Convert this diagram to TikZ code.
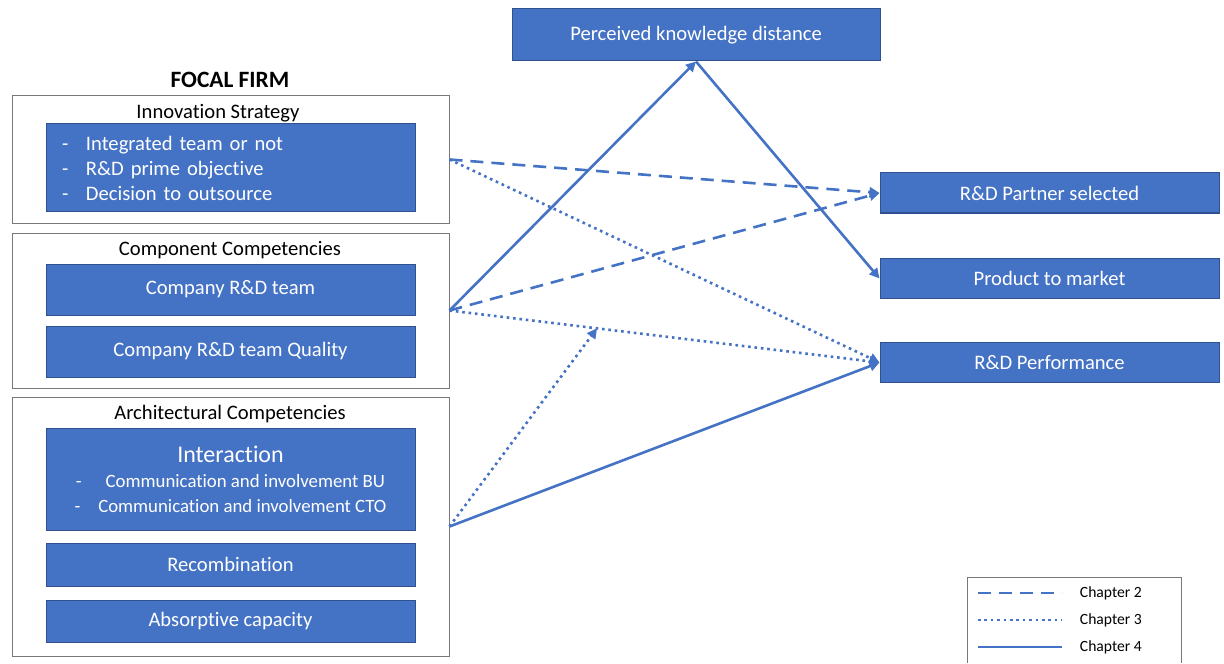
\documentclass[tikz,border=0pt]{standalone}
\usepackage{fontspec}
\setmainfont{Carlito}[Ligatures=NoCommon]
\usetikzlibrary{arrows.meta,calc}
\definecolor{boxblue}{RGB}{68,114,196}
\definecolor{boxline}{RGB}{47,82,143}
\definecolor{framegray}{RGB}{120,120,120}

\begin{document}
\begin{tikzpicture}[x=0.5pt,y=-0.5pt,>={Triangle[length=5pt,width=5pt]},
  frame/.style={draw=framegray,line width=0.5pt,minimum width=218.5pt,inner sep=0pt},
  bluebox/.style={draw=boxline,line width=0.5pt,fill=boxblue,text=white,inner sep=0pt,
    minimum width=184.5pt,font=\fontsize{10.3}{12.5}\selectfont},
  rightbox/.style={bluebox,minimum width=169.5pt,minimum height=20pt},
  title/.style={font=\fontsize{10.3}{11}\selectfont},
  legtext/.style={right=5pt,black,font=\fontsize{7.8}{9}\selectfont},
  line/.style={boxblue,line width=1.3pt},
  ch2/.style={line,dash pattern=on 6.5pt off 4pt},
  ch3/.style={line,dash pattern=on 1.3pt off 1.9pt},
  ch4/.style={line}]
\useasboundingbox (0,0) rectangle (1224,663);
% focal firm
\node[font=\fontsize{11.7}{13}\selectfont\bfseries] (ff) at (230,80) {FOCAL FIRM};
\node[frame,minimum height=63.5pt] (is) at (230.5,159.5) {};
\node[title] (ist) at (218,113) {Innovation Strategy};
\node[bluebox,minimum height=44pt,text width=168.5pt,inner xsep=8pt,align=left] (isb) at (230.5,168)
  {\makebox[12pt][l]{-}Integrated team or not\\ \makebox[12pt][l]{-}R\&D prime objective\\ \makebox[12pt][l]{-}Decision to outsource};
\node[frame,minimum height=77.5pt] (cc) at (230.5,310.5) {};
\node[title] (cct) at (230,250) {Component Competencies};
\node[bluebox,minimum height=25.5pt] (rdt) at (230.5,289.5) {Company R\&D team};
\node[bluebox,minimum height=25.5pt] (rdq) at (230.5,351.5) {Company R\&D team Quality};
\node[frame,minimum height=129.5pt] (ac) at (230.5,526.5) {};
\node[title] (act) at (230,414) {Architectural Competencies};
\node[bluebox,minimum height=51pt,align=center] (inter) at (230.5,479)
  {{\fontsize{12}{14}\selectfont Interaction}\\
   \fontsize{9.4}{11.5}\selectfont -\hspace{12pt}Communication and involvement BU\\
   \fontsize{9.4}{11.5}\selectfont -\hspace{9pt}Communication and involvement CTO};
\node[bluebox,minimum height=21.5pt] (recomb) at (230.5,564.5) {Recombination};
\node[bluebox,minimum height=21pt] (absorb) at (230.5,621) {Absorptive capacity};
% outcomes
\node[bluebox,minimum width=184pt,minimum height=26pt] (pkd) at (696,35) {Perceived knowledge distance};
\node[rightbox] (partner) at (1049.5,193) {R\&D Partner selected};
\node[rightbox] (product) at (1049.5,278.5) {Product to market};
\node[rightbox] (perf) at (1049.5,362.5) {R\&D Performance};
% links
\coordinate (mod) at ($(cc.east)!0.343!(perf.west)$);
\draw[ch2,->] (is.east) -- (partner.west);
\draw[ch3,->] (is.east) -- (perf.west);
\draw[ch4,->] (cc.east) -- (pkd.south);
\draw[ch4,->] (pkd.south) -- (product.west);
\draw[ch2,->] (cc.east) -- (partner.west);
\draw[ch3,->] (cc.east) -- (perf.west);
\draw[ch3,->] (ac.east) -- (mod);
\draw[ch4,->] (ac.east) -- (perf.west);
% legend
\draw[framegray,line width=0.5pt] (967,663) |- (1181,577) -- (1181,663);
\path (978,593) coordinate (l2) (978,620) coordinate (l3) (978,647) coordinate (l4);
\draw[ch2] (l2) -- ++(84,0) node[legtext] (c2) {Chapter 2};
\draw[ch3] (l3) -- ++(84,0) node[legtext] (c3) {Chapter 3};
\draw[ch4] (l4) -- ++(84,0) node[legtext] (c4) {Chapter 4};
\end{tikzpicture}
\end{document}
